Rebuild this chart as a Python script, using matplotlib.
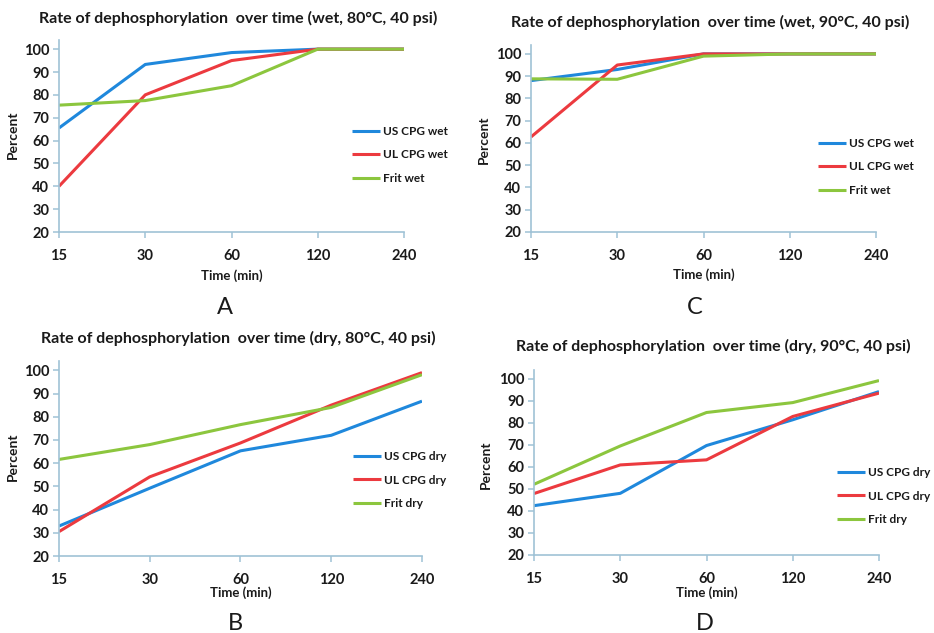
import matplotlib
matplotlib.use("Agg")
import matplotlib.pyplot as plt

W, H = 934, 633
plt.rcParams['font.family'] = ['Lato', 'DejaVu Sans']

time_labels = ["15", "30", "60", "120", "240"]

# Panel A (wet, 80C)
a_us = [65.5, 93.3, 98.5, 100, 100]
a_ul = [40, 80, 95, 100, 100]
a_frit = [75.5, 77.5, 84, 100, 100]
# Panel C (wet, 90C)
c_us = [88, 93, 100, 100, 100]
c_ul = [62.7, 95, 100, 100, 100]
c_frit = [88.8, 88.6, 99, 100, 100]
# Panel B (dry, 80C)
b_us = [32.9, 49.2, 65.3, 72, 86.7]
b_ul = [30.5, 54.1, 68.7, 85, 99]
b_frit = [61.6, 68, 76.6, 84, 98.1]
# Panel D (dry, 90C)
d_us = [42.4, 48, 69.7, 81.4, 94.2]
d_ul = [47.9, 60.9, 63.2, 82.9, 93.5]
d_frit = [52.1, 69.5, 84.7, 89.2, 99.2]

wet_names = ["US CPG wet", "UL CPG wet", "Frit wet"]
dry_names = ["US CPG dry", "UL CPG dry", "Frit dry"]

titles = {
    "A": "Rate of dephosphorylation  over time (wet, 80°C, 40 psi)",
    "C": "Rate of dephosphorylation  over time (wet, 90°C, 40 psi)",
    "B": "Rate of dephosphorylation  over time (dry, 80°C, 40 psi)",
    "D": "Rate of dephosphorylation  over time (dry, 90°C, 40 psi)",
}

colors = ["#1f88dc", "#ec3a3f", "#8cc63e"]
axis_col = "#9fc2d6"
text_col = "#1a1a1a"

# layout in pixels
panels = [
    ("A", [a_us, a_ul, a_frit], wet_names, 59, 404, 232, 40, (238, 18), (225, 308), (352, 155), (13, 135), 276),
    ("C", [c_us, c_ul, c_frit], wet_names, 531, 876, 232, 45, (710, 22), (695, 308), (818, 167), (484, 140), 275),
    ("B", [b_us, b_ul, b_frit], dry_names, 59, 422, 556, 361, (238, 338), (235, 623), (353, 480), (13, 457), 593),
    ("D", [d_us, d_ul, d_frit], dry_names, 534, 879, 555, 370, (713, 346), (705, 623), (837, 496), (486, 465), 593),
]

fig = plt.figure(figsize=(W / 100, H / 100), dpi=100)
fig.patch.set_facecolor("white")

for (lab, series, names, l, r, y20, ytop, tpos, lpos, legpos, ylabpos, xlab_y) in panels:
    ax = fig.add_axes([l / W, 1 - y20 / H, (r - l) / W, (y20 - ytop) / H])
    x = list(range(len(time_labels)))
    for s, n, c in zip(series, names, colors):
        ax.plot(x, s, color=c, lw=2.2, label=n, solid_capstyle='butt')
    ax.set_xlim(0, 4)
    ax.set_ylim(20, 104)
    ax.set_yticks(range(20, 101, 10))
    ax.set_xticks(x)
    ax.set_xticklabels(time_labels)
    for sp in ["top", "right"]:
        ax.spines[sp].set_visible(False)
    for sp in ["left", "bottom"]:
        ax.spines[sp].set_color(axis_col)
        ax.spines[sp].set_linewidth(1.2)
    ax.tick_params(axis="both", colors=axis_col, direction="out", length=4, width=1.1,
                   labelcolor=text_col, labelsize=10.5, pad=3)
    for t in ax.get_xticklabels() + ax.get_yticklabels():
        t.set_fontweight("bold")
    ax.tick_params(axis="x", pad=8)
    fig.text(tpos[0] / W, 1 - tpos[1] / H, titles[lab], ha="center", va="center",
             fontsize=11.5, color=text_col, fontweight="bold")
    fig.text(lpos[0] / W, 1 - lpos[1] / H, lab, ha="center", va="center",
             fontsize=17, color=text_col)
    fig.text(ylabpos[0] / W, 1 - ylabpos[1] / H, "Percent", ha="center", va="center",
             rotation=90, fontsize=10, color=text_col, fontweight="bold")
    fig.text(((l + r) / 2) / W, 1 - xlab_y / H, "Time (min)", ha="center", va="center",
             fontsize=9.5, color=text_col, fontweight="bold")
    leg = ax.legend(loc="center left", bbox_to_anchor=(legpos[0] / W, 1 - legpos[1] / H),
                    bbox_transform=fig.transFigure, frameon=False, fontsize=8.5,
                    handlelength=2.4, handletextpad=0.25, labelspacing=1.05,
                    borderpad=0, borderaxespad=0)
    for t in leg.get_texts():
        t.set_fontweight("bold")
        t.set_color(text_col)

fig.savefig("out.png", dpi=100, facecolor="white")
